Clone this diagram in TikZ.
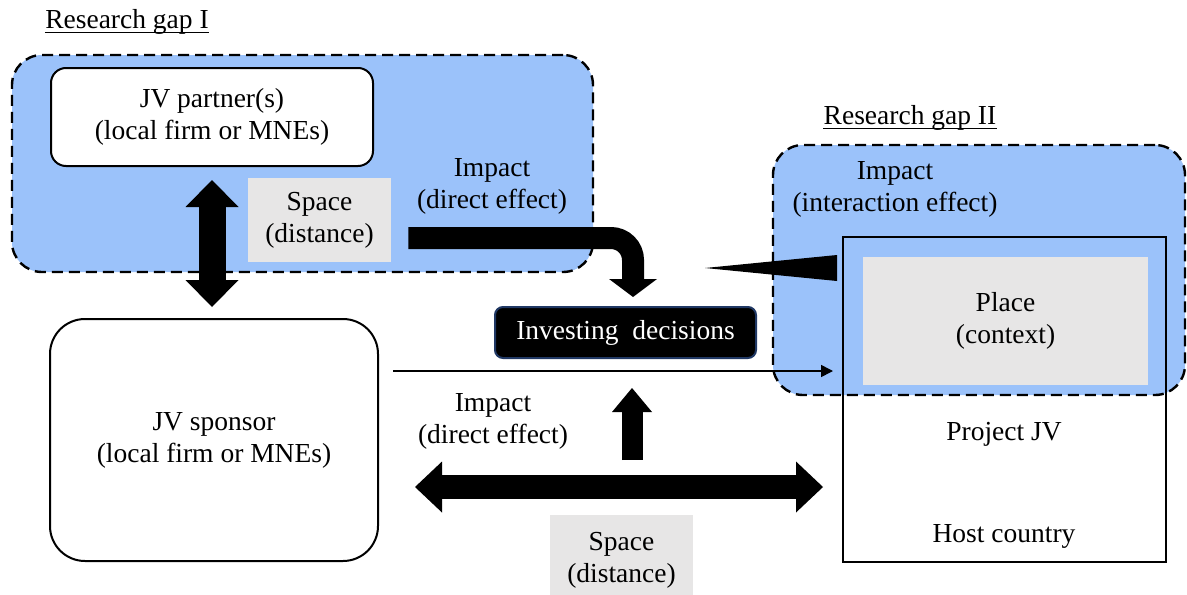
\documentclass[tikz,border=0pt]{standalone}
\usepackage{fontspec}
\setmainfont{Liberation Serif}
\usetikzlibrary{arrows.meta,calc}
\definecolor{gapblue}{RGB}{155,194,250}
\definecolor{boxgray}{RGB}{231,230,230}
\definecolor{navyedge}{RGB}{32,56,100}
\begin{document}
\begin{tikzpicture}[x=0.5pt,y=-0.5pt,
  every node/.style={font=\fontsize{13.75}{16}\selectfont, align=center, inner sep=0pt},
  gaparea/.style={draw=black, fill=gapblue, line width=1.2pt,
    dash pattern=on 5.5pt off 3pt, rounded corners=15pt},
  firmbox/.style={draw=black, fill=white, line width=1pt},
  graybox/.style={fill=boxgray},
  decisionbox/.style={fill=black, draw=navyedge, line width=1pt,
    rounded corners=4pt, text=white},
  ruleline/.style={line width=0.7pt},
  thinarrow/.style={line width=0.8pt, -{Triangle[length=6pt,width=6pt]}},
]
\useasboundingbox (0,0) rectangle (1187,594);

% shaded research-gap areas
\node[gaparea, minimum width=290.5pt, minimum height=108.5pt] (gapA) at (302.5,163.5) {};
\node[gaparea, minimum width=206pt, minimum height=125pt] (gapB) at (979,270) {};

% headings
\node[anchor=base] (gapAlabel) at (127,28) {Research gap I};
\draw[ruleline] ($(gapAlabel.base west)+(0,4.5)$) -- ($(gapAlabel.base east)+(0,4.5)$);
\node[anchor=base] (gapBlabel) at (910,124) {Research gap II};
\draw[ruleline] ($(gapBlabel.base west)+(0,4.5)$) -- ($(gapBlabel.base east)+(0,4.5)$);

% firms
\node[firmbox, rounded corners=7.5pt, minimum width=161pt, minimum height=49pt]
  (partner) at (212,117) {JV partner(s)\\(local firm or MNEs)};
\node[firmbox, rounded corners=17.5pt, minimum width=164pt, minimum height=121pt]
  (sponsor) at (214,440) {JV sponsor\\(local firm or MNEs)};

% space / impact labels
\node[graybox, minimum width=71.5pt, minimum height=42pt] (spaceA) at (319.5,220) {Space\\(distance)};
\node (impactA) at (492,186.5) {Impact\\(direct effect)};
\node (impactB) at (895,189) {Impact\\(interaction effect)};
\node (impactC) at (493,421) {Impact\\(direct effect)};
\node[graybox, minimum width=71.5pt, minimum height=45pt] (spaceB) at (621.5,560) {Space\\(distance)};

% decisions
\node[decisionbox, minimum width=130.5pt, minimum height=25.5pt]
  (invest) at (625.5,332.5) {Investing\hspace{0.25em} decisions};

% project in host country
\node[draw=black, line width=1pt, minimum width=161.5pt, minimum height=162.5pt] (project) at (1004.5,399.5) {};
\node[graybox, minimum width=142.5pt, minimum height=64pt] (place) at (1005.5,321) {Place\\(context)};
\node (projjv) at (1004,434) {Project JV};
\node (host) at (1004,536) {Host country};

% partner <-> sponsor
\draw[line width=13.5pt,
  {Triangle[length=13.5pt,width=26.5pt,line width=0pt]}-{Triangle[length=13.5pt,width=26.5pt,line width=0pt]},
  shorten <=6.5pt, shorten >=5.5pt]
  (partner.south) -- (partner.south |- sponsor.north);

% space -> decisions (bent arrow)
\draw[line width=11pt, rounded corners=11pt,
  -{Triangle[length=9pt,width=24pt,line width=0pt]},
  shorten <=8.5pt, shorten >=4.5pt]
  (spaceA.east |- 0,238) -| ([xshift=3.75pt]invest.north);

% upward arrow into decisions
\coordinate (upbase) at (632,460);
\draw[line width=10.5pt, -{Triangle[length=12pt,width=20pt,line width=0pt]}, shorten >=14.5pt]
  (upbase) -- (upbase |- invest.south);

% sponsor <-> project
\draw[line width=12pt,
  {Triangle[length=13.5pt,width=25.5pt,line width=0pt]}-{Triangle[length=13.5pt,width=25.5pt,line width=0pt]},
  shorten <=18pt, shorten >=9.5pt]
  (sponsor.east |- 0,487) -- (project.west |- 0,487);

% thin arrow sponsor -> project
\draw[thinarrow, shorten <=7pt, shorten >=4.5pt]
  (sponsor.east |- 0,371) -- (project.west |- 0,371);

% interaction wedge
\coordinate (wtip) at (705,268);
\fill (wtip) -- ($(project.west |- 0,255)+(-5,0)$) -- ($(project.west |- 0,281)+(-5,0)$) -- cycle;
\end{tikzpicture}
\end{document}
